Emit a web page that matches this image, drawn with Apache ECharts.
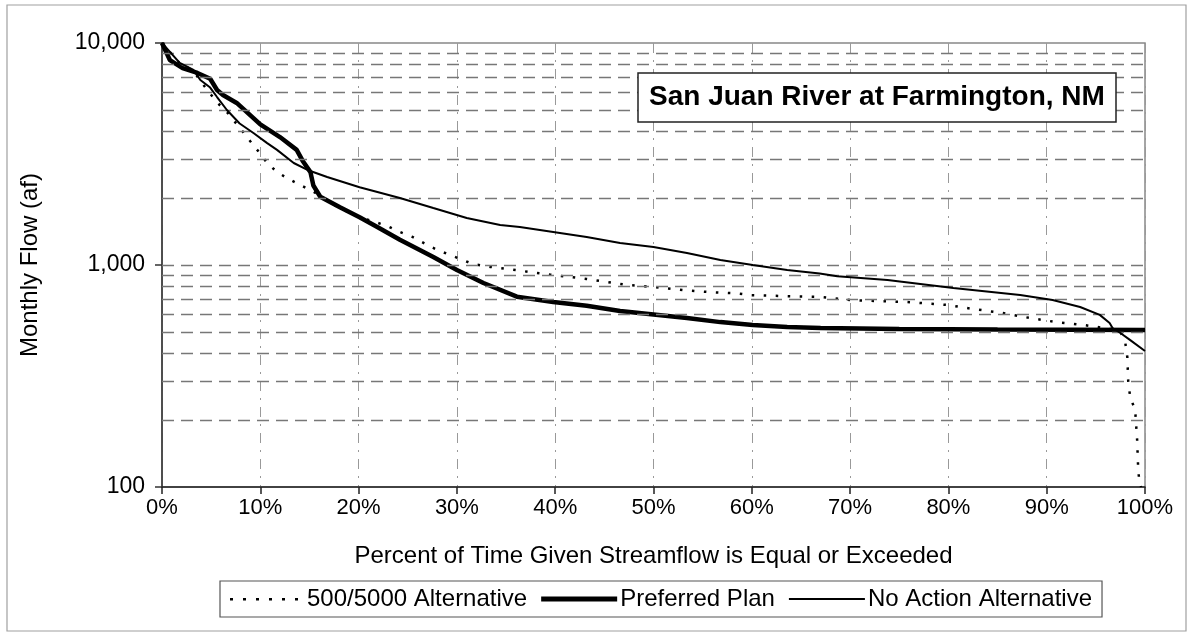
<!DOCTYPE html>
<html>
<head>
<meta charset="utf-8">
<script src="https://cdn.jsdelivr.net/npm/echarts@6/dist/echarts.min.js"></script>
<style>html,body{margin:0;padding:0;background:#fff;}#c{width:1193px;height:638px;}</style>
</head>
<body>
<div id="c"></div>
<script>
// ---- data ----
var seriesNames = ['500/5000 Alternative', 'Preferred Plan', 'No Action Alternative'];

var altPct  = [0, 1.8, 3.2, 3.9, 5.6, 6.6, 8, 9, 10, 10.7, 11.7, 12.7, 14, 15.4, 16.4, 18, 20, 22.9, 24.2, 25.5, 27, 28, 29.3, 30.6, 31.6, 33.4, 36.1, 37.7, 39.5, 43.2, 47.3, 50, 53, 55.7, 58.5, 59.8, 62.9, 66.9, 70, 75.8, 79.9, 82.5, 85.5, 88.3, 91, 93.7, 95.1, 96.5, 97.5, 98, 98.2, 98.3, 98.5, 99, 99.2, 99.3, 99.4, 99.6];
var altFlow = [10000, 8100, 7500, 6750, 5400, 4890, 4100, 3600, 3170, 2880, 2625, 2465, 2300, 2140, 2005, 1810, 1650, 1500, 1409, 1337, 1230, 1170, 1110, 1054, 1011, 980, 948, 925, 905, 865, 813, 797, 771, 755, 745, 732, 725, 718, 695, 681, 661, 634, 608, 577, 553, 537, 526, 515, 500, 445, 385, 294, 254, 222, 163, 123, 108, 100];

var prefPct  = [0, 0.8, 2.1, 3.6, 4.9, 5.6, 6.2, 7.6, 10, 12, 13.7, 14.3, 15.1, 15.4, 16.1, 18.1, 20.1, 21.9, 24.2, 27.6, 30, 32.7, 36.1, 39.8, 43.2, 46.6, 50, 53.4, 56.8, 60.1, 63.6, 67, 75, 85, 100];
var prefFlow = [10000, 8380, 7710, 7330, 6900, 6140, 5830, 5370, 4300, 3770, 3300, 2950, 2620, 2280, 2030, 1820, 1640, 1483, 1300, 1086, 950, 830, 720, 681, 655, 620, 598, 577, 553, 537, 526, 520, 515, 512, 510];

var noActPct  = [0, 1.8, 3.2, 3.9, 4.9, 5.6, 6.6, 7.9, 9.3, 10.7, 11.7, 13.4, 14.8, 16.8, 20.1, 24.2, 27.6, 31, 34.4, 36.4, 39.8, 43.2, 46.6, 50, 53.4, 56.8, 60.1, 63.6, 66.9, 68.7, 73.8, 80.5, 87.3, 90.6, 93.4, 95.4, 96.4, 96.7, 97.5, 98.5, 100];
var noActFlow = [10000, 8130, 7560, 6810, 6300, 5710, 4990, 4340, 3930, 3540, 3300, 2880, 2680, 2490, 2240, 2005, 1806, 1629, 1514, 1483, 1409, 1337, 1256, 1205, 1132, 1054, 1000, 949, 915, 890, 855, 787, 732, 695, 647, 596, 548, 520, 494, 459, 410];

var yMinorGrid = [200, 300, 400, 500, 600, 700, 800, 900, 1000, 2000, 3000, 4000, 5000, 6000, 7000, 8000, 9000];

var titleText = 'San Juan River at Farmington, NM';
var xName = 'Percent of Time Given Streamflow is Equal or Exceeded';
var yName = 'Monthly Flow (af)';

function zip(a, b) { return a.map(function (v, i) { return [v, b[i]]; }); }

// legend sample glyphs (76 x 12 box)
var BOX = 'M0 0L0 12M76 0L76 12';
var iconDotted = 'path://' + BOX + [2, 15, 28, 41, 54, 67].map(function (x) { return 'M' + x + ' 5h3v2.5h-3z'; }).join('');
var iconThick = 'path://' + BOX + 'M0 3.5h76v5h-76z';
var iconThin = 'path://' + BOX + 'M0 5h76v2h-76z';

var FONT = '"Liberation Sans", Arial, Helvetica, sans-serif';
var chart = echarts.init(document.getElementById('c'), null, { renderer: 'canvas' });

chart.setOption({
  animation: false,
  backgroundColor: '#fff',
  textStyle: { fontFamily: FONT, color: '#000' },
  graphic: [{
    type: 'rect', z: -10, silent: true,
    shape: { x: 7, y: 5, width: 1179, height: 626 },
    style: { fill: 'none', stroke: '#a0a0a0', lineWidth: 1.2 }
  }],
  title: {
    text: titleText,
    left: 638, top: 73,
    padding: [8, 11],
    borderWidth: 1.5, borderColor: '#222',
    backgroundColor: '#fff',
    textStyle: { fontFamily: FONT, fontSize: 28, fontWeight: 'bold', color: '#000', lineHeight: 33 }
  },
  legend: {
    data: [
      { name: seriesNames[0], icon: iconDotted, itemStyle: { color: '#000', borderWidth: 0 } },
      { name: seriesNames[1], icon: iconThick, itemStyle: { color: '#000', borderWidth: 0 } },
      { name: seriesNames[2], icon: iconThin, itemStyle: { color: '#000', borderWidth: 0 } }
    ],
    left: 220, top: 581,
    orient: 'horizontal',
    itemWidth: 76, itemHeight: 12, itemGap: 14,
    padding: [6, 10, 6, 8],
    borderColor: '#555', borderWidth: 1.2,
    textStyle: { fontFamily: FONT, fontSize: 24, color: '#000', padding: [0, 0, 0, -2] }
  },
  grid: {
    left: 162, right: 48, top: 43, bottom: 151,
    show: true, borderColor: '#888', borderWidth: 1.5, backgroundColor: 'transparent'
  },
  xAxis: {
    type: 'value', min: 0, max: 100, interval: 10,
    name: xName, nameLocation: 'middle', nameGap: 57,
    nameTextStyle: { fontFamily: FONT, fontSize: 24, color: '#000' },
    axisLine: { show: true, lineStyle: { color: '#222', width: 1.5 } },
    axisTick: { show: true, length: 7, lineStyle: { color: '#222', width: 1.5 } },
    axisLabel: { fontFamily: FONT, fontSize: 22, color: '#000', margin: 10, formatter: '{value}%' },
    splitLine: { show: true, lineStyle: { color: '#999', width: 1, type: [10, 7, 2, 7] } }
  },
  yAxis: {
    type: 'log', logBase: 10, min: 100, max: 10000,
    name: yName, nameLocation: 'middle', nameGap: 120,
    nameTextStyle: { fontFamily: FONT, fontSize: 24, color: '#000' },
    axisLine: { show: true, lineStyle: { color: '#333', width: 1.5 } },
    axisTick: { show: true, length: 7, lineStyle: { color: '#333', width: 1.5 } },
    axisLabel: {
      fontFamily: FONT, fontSize: 23, color: '#000', margin: 17,
      formatter: function (v) { return Math.round(v).toLocaleString('en-US'); }
    },
    splitLine: { show: false },
    minorTick: { show: false },
    minorSplitLine: { show: false }
  },
  series: [
    {
      name: 'gridlines', type: 'line', data: [], z: 1, silent: true,
      markLine: {
        silent: true, symbol: ['none', 'none'], animation: false,
        label: { show: false },
        lineStyle: { color: '#777', width: 1.3, type: [12, 7] },
        emphasis: { disabled: true },
        data: yMinorGrid.map(function (v) { return { yAxis: v }; })
      }
    },
    {
      name: seriesNames[0], type: 'line', z: 3, showSymbol: false, symbol: 'none',
      data: zip(altPct, altFlow),
      lineStyle: { color: '#000', width: 2.5, type: [2.5, 9.5] },
      itemStyle: { color: '#000' }
    },
    {
      name: seriesNames[1], type: 'line', z: 4, showSymbol: false, symbol: 'none',
      data: zip(prefPct, prefFlow),
      lineStyle: { color: '#000', width: 4.5 },
      itemStyle: { color: '#000' }
    },
    {
      name: seriesNames[2], type: 'line', z: 5, showSymbol: false, symbol: 'none',
      data: zip(noActPct, noActFlow),
      lineStyle: { color: '#000', width: 2 },
      itemStyle: { color: '#000' }
    }
  ]
});
</script>
</body>
</html>
